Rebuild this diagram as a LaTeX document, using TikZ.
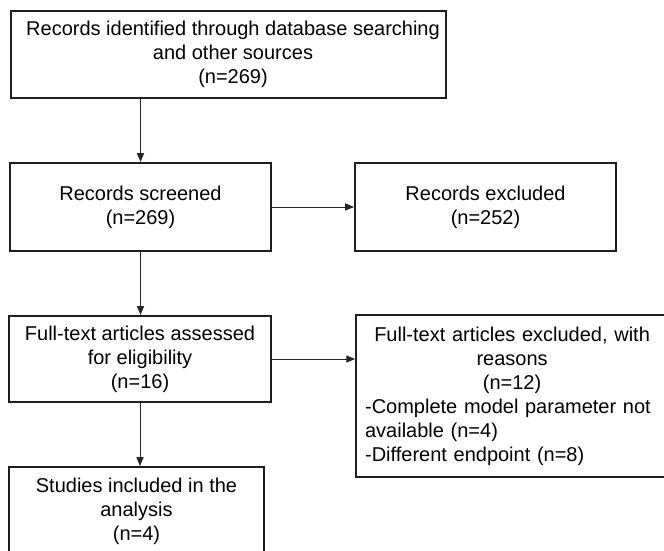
\documentclass[tikz,border=0pt]{standalone}
\usepackage{fontspec}
\setmainfont{Liberation Sans}
\usetikzlibrary{arrows}

\begin{document}
\begin{tikzpicture}[line cap=round,line join=round,>=triangle 45,x=1pt,y=-1pt,
  box/.style={draw=black!88,line width=2.2pt,line cap=butt,line join=miter,inner sep=0pt,align=center,font=\fontsize{20}{24}\selectfont},
  boxtext/.style={align=center,inner sep=0pt,font=\fontsize{20}{24}\selectfont},
  flow/.style={->,draw=black!85,line width=1pt}]
\useasboundingbox (0,0) rectangle (664,551);
\clip (0,0) rectangle (664,551);
% boxes
\node[box,minimum width=435pt,minimum height=87pt] (ident) at (228.5,54.5) {};
\node[boxtext] (identtext) at (233,54.5) {Records identified through database searching\\and other sources\\(n=269)};
\node[box,minimum width=261pt,minimum height=88pt] (screen) at (140.5,207) {Records screened\\(n=269)};
\node[box,minimum width=261pt,minimum height=88pt] (excl) at (485.5,207) {Records excluded\\(n=252)};
\node[box,minimum width=262pt,minimum height=86pt] (full) at (140,359) {Full-text articles assessed\\for eligibility\\(n=16)};
\node[box,anchor=west,text width=294pt,inner xsep=9pt,minimum height=162pt,align=left] (fullex) at (355,396) {\centering Full-text articles excluded, with\\reasons\\(n=12)\par\raggedright -Complete model parameter not\\available (n=4)\\-Different endpoint (n=8)};
\node[box,minimum width=255pt,minimum height=88pt] (incl) at (136.5,511) {Studies included in the\\analysis\\(n=4)};
% arrows
\draw[flow] (screen.north |- ident.south) -- (screen.north);
\draw[flow] (screen.east) -- (excl.west);
\draw[flow] (screen.south) -- (screen.south |- full.north);
\draw[flow] (full.east) -- (full.east -| fullex.west);
\draw[flow] (full.south) -- (full.south |- incl.north);
\end{tikzpicture}
\end{document}
